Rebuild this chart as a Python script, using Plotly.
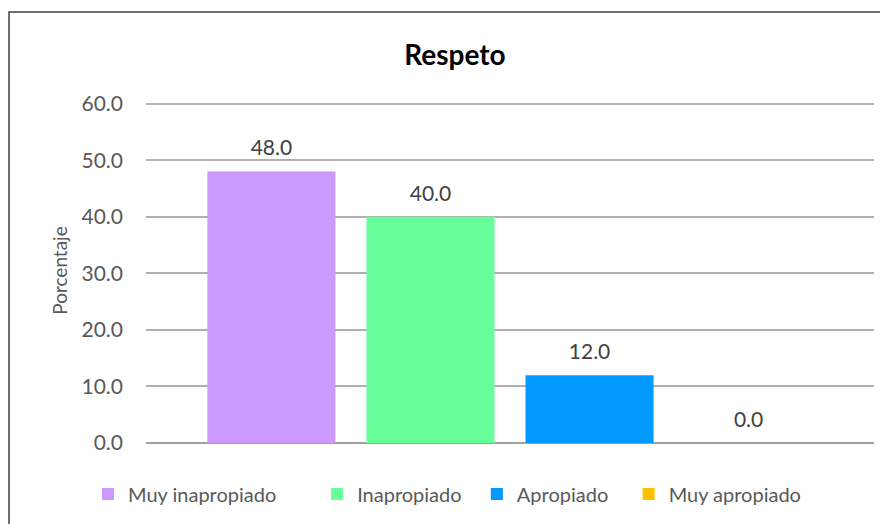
import plotly.graph_objects as go

categorias = ['Muy inapropiado', 'Inapropiado', 'Apropiado', 'Muy apropiado']
porcentajes = [48.0, 40.0, 12.0, 0.0]
colores = ['#cc99ff', '#66ff99', '#0099ff', '#ffc000']
grupo = ['Respeto']

FONT = 'Lato'
GRIS = '#595959'
NBSP = '\u00a0'
# espacio extra tras cada entrada de la leyenda
relleno = [7, 2, 3, 0]

# la página añade 8 px de margen al body: se compensa con una figura más pequeña
W, H = 880, 516
L, R, T, B = 138, 14, 90, 81

fig = go.Figure()
for nombre, valor, color, n in zip(categorias, porcentajes, colores, relleno):
    fig.add_trace(go.Bar(
        x=grupo, y=[valor], name=nombre + NBSP * n,
        marker=dict(color=color, line=dict(width=0)),
        hoverinfo='skip',
    ))

# etiquetas de valor: marcador invisible para separar el texto de la barra
for nombre, valor in zip(categorias, porcentajes):
    fig.add_trace(go.Scatter(
        x=grupo, y=[valor], mode='markers+text', showlegend=False,
        marker=dict(size=16, color='rgba(0,0,0,0)'),
        text=[f'{valor:.1f}'], textposition='top center', cliponaxis=False,
        textfont=dict(family=FONT, size=21, color='#404040'),
        hoverinfo='skip',
    ))

fig.update_layout(
    width=W, height=H,
    margin=dict(l=L, r=R, t=T, b=B, autoexpand=False),
    paper_bgcolor='white', plot_bgcolor='white',
    barmode='group', bargap=0.126, bargroupgap=0.195,
    scattermode='group', scattergap=0.126,
    title=dict(text='<b>Respeto</b>', x=447 / W, xanchor='center',
               y=1 - 47 / H, yanchor='middle',
               font=dict(family=FONT, size=28, color='black')),
    xaxis=dict(showticklabels=False, showgrid=False, zeroline=False,
               showline=False, ticks=''),
    yaxis=dict(range=[0, 61], tickvals=[0, 10, 20, 30, 40, 50, 60], tickformat='.1f',
               showgrid=True, gridcolor='#b0b0b0', gridwidth=1.5,
               zeroline=True, zerolinecolor='#a0a0a0', zerolinewidth=1.5,
               ticks='', ticklabelstandoff=22,
               tickfont=dict(family=FONT, size=21, color=GRIS),
               title=dict(text='Porcentaje', standoff=8,
                          font=dict(family=FONT, size=19, color=GRIS))),
    legend=dict(orientation='h', x=(80 - L) / 728, xanchor='left',
                y=(435 - 486) / 345, yanchor='middle',
                font=dict(family=FONT, size=20, color=GRIS),
                itemwidth=30, tracegroupgap=0),
    shapes=[dict(type='rect', xref='paper', yref='paper',
                 x0=(1 - L) / 728, x1=1.3, y0=-0.4, y1=(435 - 4) / 345,
                 line=dict(color='#404040', width=1.5), fillcolor='rgba(0,0,0,0)')],
)

fig.write_html('out.html')
